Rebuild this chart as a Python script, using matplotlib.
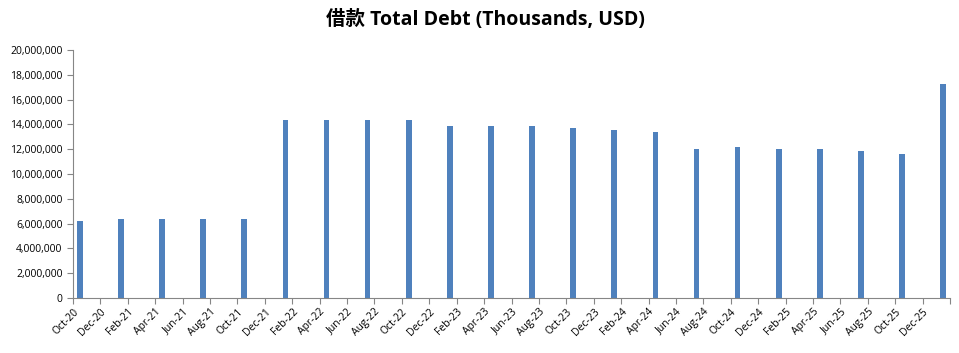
import matplotlib.pyplot as plt
from matplotlib.ticker import FuncFormatter
import numpy as np

plt.rcParams['font.family'] = ['Open Sans', 'Noto Sans CJK SC', 'DejaVu Sans']

# quarterly observations, month offset from Oct-20
periods = ["Oct-20", "Jan-21", "Apr-21", "Jul-21", "Oct-21", "Jan-22", "Apr-22", "Jul-22",
           "Oct-22", "Jan-23", "Apr-23", "Jul-23", "Oct-23", "Jan-24", "Apr-24", "Jul-24",
           "Oct-24", "Jan-25", "Apr-25", "Jul-25", "Oct-25", "Jan-26"]
month_offset = [3 * i for i in range(len(periods))]
total_debt = [6240000, 6400000, 6400000, 6400000, 6400000, 14380000, 14380000, 14380000,
              14380000, 13900000, 13900000, 13900000, 13750000, 13580000, 13420000, 12050000,
              12200000, 12050000, 12050000, 11820000, 11650000, 17220000]

tick_labels = ["Oct-20", "Dec-20", "Feb-21", "Apr-21", "Jun-21", "Aug-21", "Oct-21", "Dec-21",
               "Feb-22", "Apr-22", "Jun-22", "Aug-22", "Oct-22", "Dec-22", "Feb-23", "Apr-23",
               "Jun-23", "Aug-23", "Oct-23", "Dec-23", "Feb-24", "Apr-24", "Jun-24", "Aug-24",
               "Oct-24", "Dec-24", "Feb-25", "Apr-25", "Jun-25", "Aug-25", "Oct-25", "Dec-25", ""]

fig = plt.figure(figsize=(9.59, 3.53), dpi=100)
ax = fig.add_axes([73 / 959, 1 - 298 / 353, (950 - 73) / 959, (298 - 50) / 353])

x = np.array(month_offset) + 0.5
ax.bar(x, total_debt, width=0.42, color="#4F81BD")

ax.set_xlim(0, 64)
ax.set_ylim(0, 20000000)
ax.set_yticks(np.arange(0, 20000001, 2000000))
ax.yaxis.set_major_formatter(FuncFormatter(lambda v, p: f"{int(v):,}"))
ax.set_xticks(np.arange(0, 65, 2))
ax.set_xticklabels(tick_labels, rotation=45, ha="right", va="top", rotation_mode="anchor")

for side in ["top", "right"]:
    ax.spines[side].set_visible(False)
for side in ["left", "bottom"]:
    ax.spines[side].set_color("#868686")
ax.tick_params(axis="both", colors="#868686", length=4, labelsize=7.5, labelcolor="black")
ax.tick_params(axis="x", pad=2)

fig.text(485 / 959, 1 - 20 / 353, "借款 Total Debt (Thousands, USD)", ha="center", va="center",
         fontsize=14, fontweight="bold")

fig.savefig("out.png", dpi=100)
